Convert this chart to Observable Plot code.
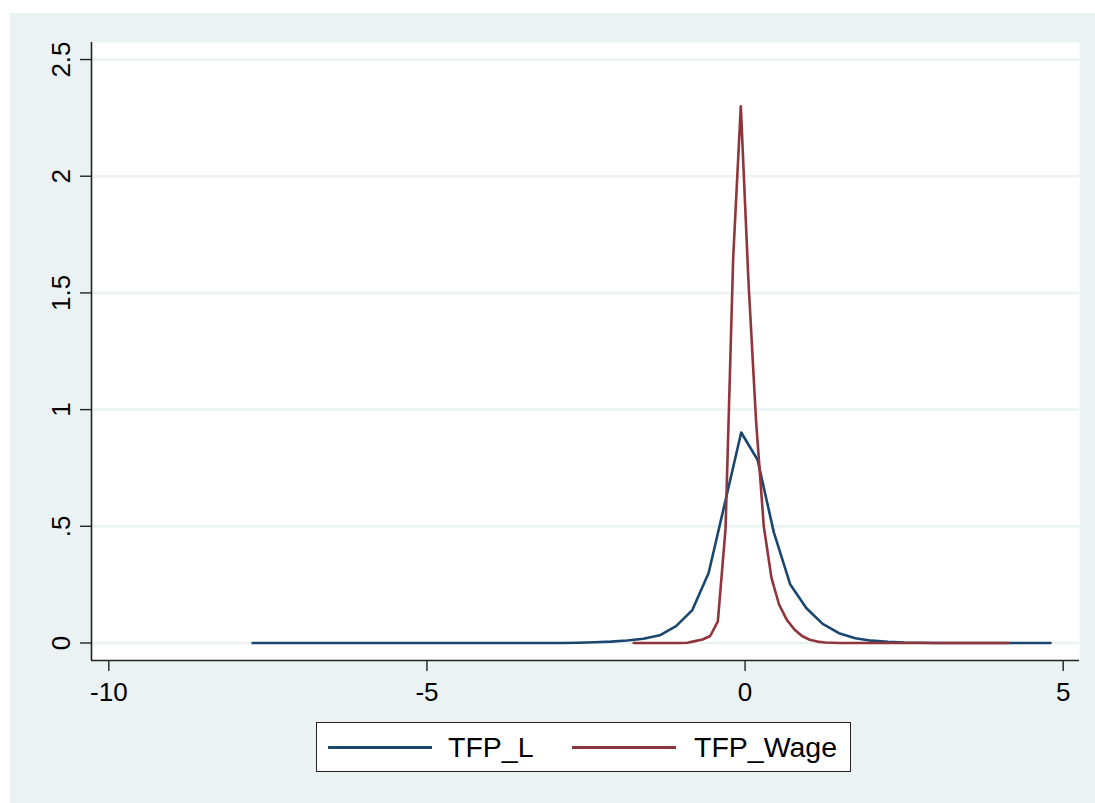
<!DOCTYPE html>
<html><head><meta charset="utf-8">
<script src="https://cdn.jsdelivr.net/npm/d3@7"></script>
<script src="https://cdn.jsdelivr.net/npm/@observablehq/plot@0.6"></script>
<style>
html,body{margin:0;padding:0;background:#fff;}
#bg{position:absolute;left:10px;top:13px;width:1085px;height:790px;background:#eaf2f3;}
#chart{position:absolute;left:0;top:0;}
#legend{position:absolute;left:306px;top:709px;width:533px;height:48px;border:1.5px solid #222;background:#fff;font-family:"Liberation Sans",Arial,sans-serif;font-size:28.5px;color:#000;}
#legend .sw{position:absolute;top:23px;height:3px;}
#legend .tx{position:absolute;top:50%;transform:translateY(-50%);line-height:1;white-space:nowrap;}
</style></head>
<body><div id="bg"><div id="chart"></div><div id="legend"></div></div>
<script>
// ---- data ----
const xTicks = [-10, -5, 0, 5];
const xTickLabels = ["-10", "-5", "0", "5"];
const yTicks = [0, 0.5, 1, 1.5, 2, 2.5];
const yTickLabels = ["0", ".5", "1", "1.5", "2", "2.5"];
const seriesNames = ["TFP_L", "TFP_Wage"];
const seriesColors = ["#1a476f", "#90353b"];

// TFP_L kernel density
const tfpLX = [-7.74, -2.876, -2.62, -2.365, -2.109, -1.853, -1.597, -1.341, -1.085, -0.829, -0.573, -0.317, -0.061, 0.196, 0.452, 0.708, 0.964, 1.22, 1.476, 1.732, 1.988, 2.244, 2.5, 2.756, 3.012, 4.80];
const tfpLY = [0, 0, 0.001, 0.003, 0.006, 0.011, 0.018, 0.033, 0.072, 0.141, 0.30, 0.60, 0.902, 0.785, 0.474, 0.252, 0.149, 0.082, 0.042, 0.020, 0.010, 0.005, 0.002, 0.001, 0, 0];

// TFP_Wage kernel density
const tfpWageX = [-1.75, -1.028, -0.908, -0.788, -0.668, -0.548, -0.428, -0.307, -0.187, -0.067, 0.053, 0.173, 0.294, 0.414, 0.534, 0.654, 0.775, 0.895, 1.015, 1.135, 1.256, 1.376, 1.496, 4.14];
const tfpWageY = [0, 0, 0.001, 0.008, 0.015, 0.03, 0.093, 0.49, 1.65, 2.30, 1.55, 0.95, 0.50, 0.28, 0.165, 0.10, 0.058, 0.03, 0.014, 0.006, 0.002, 0.001, 0, 0];

// ---- build ----
const rowsL = tfpLX.map((x, i) => ({x, y: tfpLY[i]}));
const rowsW = tfpWageX.map((x, i) => ({x, y: tfpWageY[i]}));
const xDomain = [-10.272, 5.256];
const yDomain = [-0.075, 2.573];
const axisColor = "#222";

const chart = Plot.plot({
  width: 1085,
  height: 700,
  marginLeft: 81,
  marginRight: 16,
  marginTop: 29,
  marginBottom: 53,
  style: {background: "transparent", fontFamily: "'Liberation Sans', Arial, sans-serif", fontSize: "26px", overflow: "visible"},
  x: {domain: xDomain, label: null},
  y: {domain: yDomain, label: null},
  marks: [
    Plot.frame({fill: "white", stroke: "none"}),
    Plot.ruleY(yTicks, {stroke: "#eaf2f3", strokeWidth: 2.5}),
    Plot.line(rowsL, {x: "x", y: "y", stroke: seriesColors[0], strokeWidth: 2.6, strokeLinejoin: "round"}),
    Plot.line(rowsW, {x: "x", y: "y", stroke: seriesColors[1], strokeWidth: 2.6, strokeLinejoin: "round"}),
    Plot.ruleX([xDomain[0]], {stroke: axisColor, strokeWidth: 1.6}),
    Plot.ruleY([yDomain[0]], {stroke: axisColor, strokeWidth: 1.6}),
    Plot.axisX(xTicks, {label: null, tickFormat: d => xTickLabels[xTicks.indexOf(d)], tickSize: 11, tickPadding: 11, color: axisColor, fill: "#000", strokeWidth: 1.4}),
    Plot.axisY(yTicks, {label: null, tickFormat: d => yTickLabels[yTicks.indexOf(d)], tickSize: 11, tickRotate: -90, tickPadding: 11, color: axisColor, fill: "#000", strokeWidth: 1.4})
  ]
});
document.getElementById("chart").appendChild(chart);

// ---- legend ----
const legend = document.getElementById("legend");
const swLeft = [11, 255];
const txLeft = [131, 377];
seriesNames.forEach((name, i) => {
  const sw = document.createElement("div");
  sw.className = "sw";
  sw.style.left = swLeft[i] + "px";
  sw.style.width = "104px";
  sw.style.background = seriesColors[i];
  legend.appendChild(sw);
  const tx = document.createElement("div");
  tx.className = "tx";
  tx.style.left = txLeft[i] + "px";
  tx.textContent = name;
  legend.appendChild(tx);
});
</script></body></html>
